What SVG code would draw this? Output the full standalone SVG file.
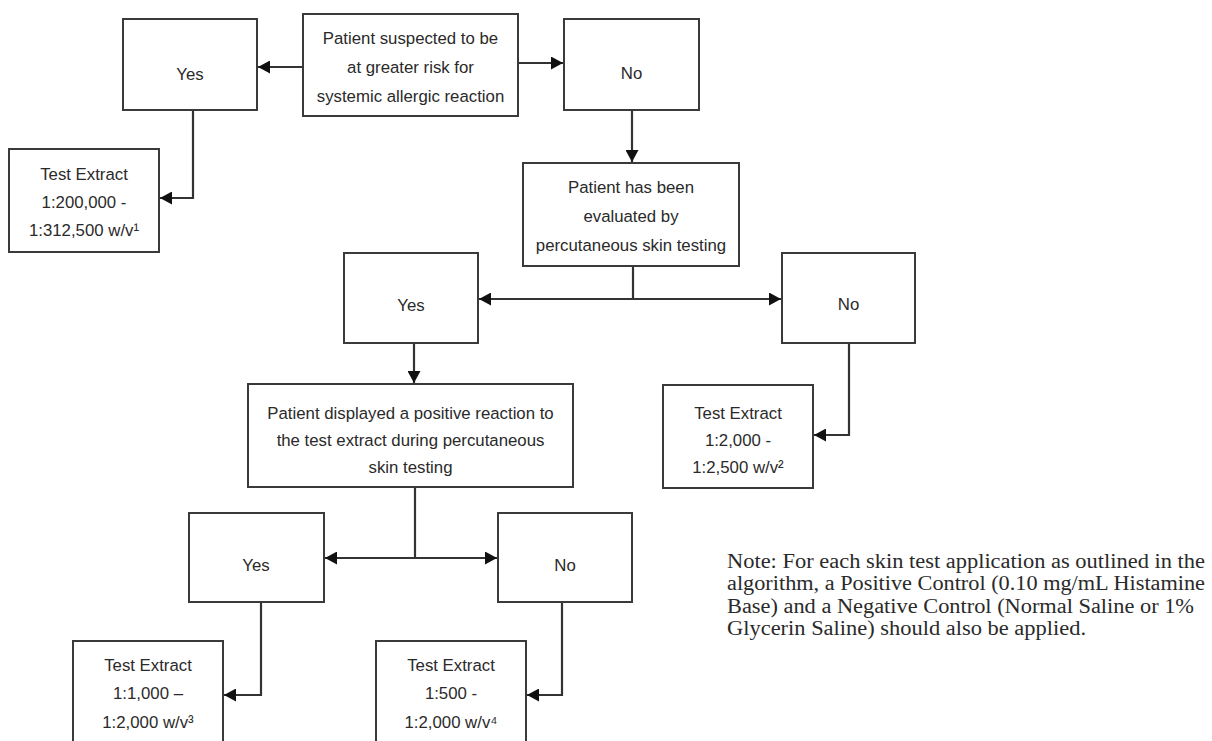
<svg xmlns="http://www.w3.org/2000/svg" width="1212" height="741" viewBox="0 0 1212 741">
<style>
.box{fill:#fff;stroke:#3a3a3a;stroke-width:2}
.t{font-family:"Liberation Sans",Arial,sans-serif;font-size:16.8px;fill:#2a2a2a;text-anchor:middle}
.c{fill:none;stroke:#333;stroke-width:2.2}
.note{font-family:"Liberation Serif","Times New Roman",serif;font-size:20px;fill:#2a2a2a}
</style>
<defs>
<marker id="ah" viewBox="0 0 12 12" refX="12" refY="6" markerWidth="12" markerHeight="13" markerUnits="userSpaceOnUse" orient="auto-start-reverse" preserveAspectRatio="none">
<path d="M0,0 L12,6 L0,12 z" fill="#111"/>
</marker>
</defs>
<rect width="1212" height="741" fill="#fff"/>

<g id="connectors">
<line class="c" x1="303" y1="67" x2="258" y2="67" marker-end="url(#ah)"/>
<line class="c" x1="518" y1="63" x2="563" y2="63" marker-end="url(#ah)"/>
<polyline class="c" points="193,110 193,198 160,198" marker-end="url(#ah)"/>
<line class="c" x1="632" y1="110" x2="632" y2="162" marker-end="url(#ah)"/>
<line class="c" x1="633" y1="266" x2="633" y2="299"/>
<line class="c" x1="479" y1="299" x2="781" y2="299" marker-start="url(#ah)" marker-end="url(#ah)"/>
<line class="c" x1="414" y1="343" x2="414" y2="383" marker-end="url(#ah)"/>
<polyline class="c" points="849,343 849,435 814,435" marker-end="url(#ah)"/>
<line class="c" x1="415" y1="487" x2="415" y2="558"/>
<line class="c" x1="325" y1="558" x2="497" y2="558" marker-start="url(#ah)" marker-end="url(#ah)"/>
<polyline class="c" points="261,602 261,695 224,695" marker-end="url(#ah)"/>
<polyline class="c" points="562,602 562,695 527,695" marker-end="url(#ah)"/>
</g>

<g id="start">
<rect class="box" x="303" y="14" width="215" height="102"/>
<text class="t" x="410.5" y="44">Patient suspected to be</text>
<text class="t" x="410.5" y="73">at greater risk for</text>
<text class="t" x="410.5" y="102">systemic allergic reaction</text>
</g>

<g id="yes1">
<rect class="box" x="123" y="19" width="134" height="91"/>
<text class="t" x="190" y="80">Yes</text>
</g>

<g id="no1">
<rect class="box" x="564" y="19" width="135" height="91"/>
<text class="t" x="631.5" y="79">No</text>
</g>

<g id="extract1">
<rect class="box" x="9" y="149" width="150" height="103"/>
<text class="t" x="84" y="180">Test Extract</text>
<text class="t" x="84" y="208">1:200,000 -</text>
<text class="t" x="84" y="236">1:312,500 w/v¹</text>
</g>

<g id="evaluated">
<rect class="box" x="523" y="163" width="216" height="103"/>
<text class="t" x="631" y="193">Patient has been</text>
<text class="t" x="631" y="222">evaluated by</text>
<text class="t" x="631" y="251">percutaneous skin testing</text>
</g>

<g id="yes2">
<rect class="box" x="344" y="253" width="134" height="90"/>
<text class="t" x="411" y="311">Yes</text>
</g>

<g id="no2">
<rect class="box" x="782" y="253" width="133" height="90"/>
<text class="t" x="848.5" y="310">No</text>
</g>

<g id="displayed">
<rect class="box" x="248" y="384" width="325" height="103"/>
<text class="t" x="410.5" y="419">Patient displayed a positive reaction to</text>
<text class="t" x="410.5" y="446">the test extract during percutaneous</text>
<text class="t" x="410.5" y="473">skin testing</text>
</g>

<g id="extract2">
<rect class="box" x="663" y="385" width="150" height="103"/>
<text class="t" x="738" y="419">Test Extract</text>
<text class="t" x="738" y="446">1:2,000 -</text>
<text class="t" x="738" y="473">1:2,500 w/v²</text>
</g>

<g id="yes3">
<rect class="box" x="189" y="513" width="135" height="89"/>
<text class="t" x="256" y="571">Yes</text>
</g>

<g id="no3">
<rect class="box" x="498" y="513" width="134" height="89"/>
<text class="t" x="565" y="571">No</text>
</g>

<g id="extract3">
<rect class="box" x="73" y="641" width="150" height="104"/>
<text class="t" x="148" y="671">Test Extract</text>
<text class="t" x="148" y="699">1:1,000 –</text>
<text class="t" x="148" y="728">1:2,000 w/v³</text>
</g>

<g id="extract4">
<rect class="box" x="376" y="641" width="150" height="104"/>
<text class="t" x="451" y="671">Test Extract</text>
<text class="t" x="451" y="699">1:500 -</text>
<text class="t" x="451" y="728">1:2,000 w/v⁴</text>
</g>

<g id="note">
<text class="note" x="727" y="568" textLength="478" lengthAdjust="spacingAndGlyphs">Note: For each skin test application as outlined in the</text>
<text class="note" x="727" y="590.3" textLength="478" lengthAdjust="spacingAndGlyphs">algorithm, a Positive Control (0.10 mg/mL Histamine</text>
<text class="note" x="727" y="612.6" textLength="467" lengthAdjust="spacingAndGlyphs">Base) and a Negative Control (Normal Saline or 1%</text>
<text class="note" x="727" y="634.9" textLength="359" lengthAdjust="spacingAndGlyphs">Glycerin Saline) should also be applied.</text>
</g>
</svg>
